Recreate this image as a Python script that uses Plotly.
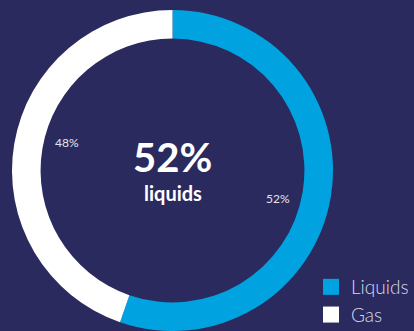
import math
import plotly.graph_objects as go

# ---- data ----
categories = ["Liquids", "Gas"]
arc_values = [55.3, 44.7]      # share of the ring as drawn in the picture
label_values = [52, 48]        # percentages printed on the chart
colors = ["#00a3e0", "#ffffff"]
center_value = "52%"
center_label = "liquids"

# ---- layout constants ----
W, H = 414, 331
BG = "#2b2a5f"
cx_px, cy_px, r_px = 172.5, 170.5, 160.5
hole = 0.822
label_r_px = 109.5
label_angle_offset = 5.5  # degrees clockwise

def px_to_paper(x, y):
    return x / W, 1 - y / H

fig = go.Figure()
fig.add_trace(go.Pie(
    labels=categories, values=arc_values, hole=hole, sort=False,
    direction="clockwise", rotation=0,
    marker=dict(colors=colors, line=dict(width=0)),
    textinfo="none", hoverinfo="label", showlegend=False,
    domain=dict(x=[(cx_px - r_px) / W, (cx_px + r_px) / W],
                y=[max(0, 1 - (cy_px + r_px) / H), min(1, 1 - (cy_px - r_px) / H)]),
))

# legend entries via marker-only traces
for name, col in zip(categories, colors):
    fig.add_trace(go.Scatter(x=[None], y=[None], mode="markers", name=name,
                             marker=dict(symbol="square", size=16, color=col),
                             hoverinfo="skip"))

annotations = []
# slice value labels positioned from the ring data
total = sum(arc_values)
cum = 0
for v, lab in zip(arc_values, label_values):
    mid = (cum + v / 2) / total * 360 + label_angle_offset
    cum += v
    a = math.radians(mid)
    lx = cx_px + label_r_px * math.sin(a)
    ly = cy_px - label_r_px * math.cos(a)
    px, py = px_to_paper(lx, ly)
    annotations.append(dict(x=px, y=py, xref="paper", yref="paper",
                            xanchor="center", yanchor="middle",
                            text=f"{lab}%", showarrow=False,
                            font=dict(family="Lato", size=12, color="#e4e4ee")))

x0, y0 = px_to_paper(cx_px, 157)
annotations.append(dict(x=x0, y=y0, xref="paper", yref="paper", xanchor="center", yanchor="middle",
                        text=f"<b>{center_value}</b>",
                        showarrow=False, font=dict(family="Lato", size=40, color="#ffffff")))
x1, y1 = px_to_paper(cx_px, 193)
annotations.append(dict(x=x1, y=y1, xref="paper", yref="paper", xanchor="center", yanchor="middle",
                        text=f"<b>{center_label}</b>",
                        showarrow=False, font=dict(family="Lato", size=20, color="#ffffff")))

fig.update_layout(
    width=W, height=H,
    margin=dict(l=0, r=0, t=0, b=0, autoexpand=False),
    paper_bgcolor=BG, plot_bgcolor=BG,
    xaxis=dict(visible=False), yaxis=dict(visible=False),
    annotations=annotations,
    legend=dict(x=311 / W, y=-3 / H, xanchor="left", yanchor="bottom",
                font=dict(family="Lato", size=19, color="#d8d8e8", weight=300),
                bgcolor="rgba(0,0,0,0)", itemsizing="trace", tracegroupgap=0),
    showlegend=True,
)

fig.write_html("out.html")
